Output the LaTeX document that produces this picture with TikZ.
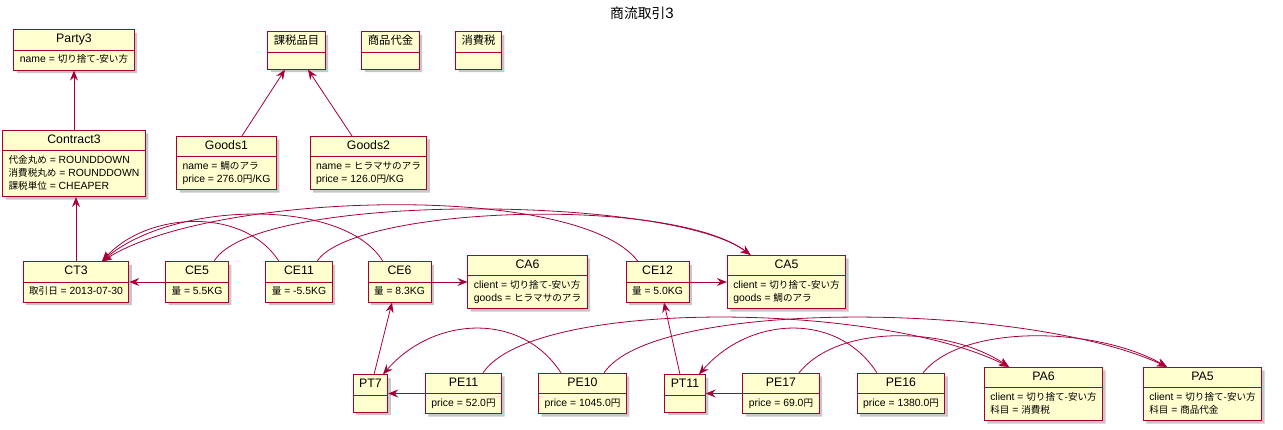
\documentclass[tikz,border=0pt]{standalone}
\usepackage{fontspec}
\setmainfont{Liberation Sans}
\newfontfamily\jp{Noto Sans CJK JP}[Scale=0.92]
\newcommand{\ja}[1]{{\jp#1}}
\newcommand{\ttl}[1]{{\fontsize{12.3}{13.5}\selectfont\strut#1}}
\usepackage{xcolor}
\usepackage{tikz}
\usetikzlibrary{shapes.multipart,arrows.meta,shadows}
\definecolor{umlred}{HTML}{A80036}
\definecolor{umlfill}{HTML}{FEFECE}

\begin{document}
\begin{tikzpicture}[
  x=1pt, y=1pt,
  font=\fontsize{10.4}{13}\selectfont,
  obj/.style={rectangle split, rectangle split parts=2,
              rectangle split part align={center,left}, align=left,
              draw=umlred, fill=umlfill, line width=0.9pt,
              inner xsep=6pt, inner ysep=3pt,
              drop shadow={shadow xshift=3pt, shadow yshift=-3pt,
                           fill=black, opacity=0.22}},
  arr/.style={-{Stealth[length=10pt, width=8pt, inset=3.5pt]},
              draw=umlred, line width=0.8pt},
]
\useasboundingbox (0,0) rectangle (1283,-430);

%% --- Title ---
\node (title) at (642,-13) {\fontsize{15}{17}\selectfont\ja{商流取引}3};

%% --- Objects ---
\node[obj] (party3) at (74,-50)
      {\ttl{Party3}\nodepart{two}\strut name = \ja{切り捨て-安い方}};
\node[obj] (contract3) at (74,-163.5)
      {\ttl{Contract3}\nodepart{two}\strut\ja{代金丸め} = ROUNDDOWN\\
       \strut\ja{消費税丸め} = ROUNDDOWN\\ \strut\ja{課税単位} = CHEAPER};

\node[obj] (kazei)    at (296.5,-50.5) {\ttl{\ja{課税品目}}\nodepart{two}\rule{0pt}{10pt}};
\node[obj] (shohin)   at (390.5,-50.5) {\ttl{\ja{商品代金}}\nodepart{two}\rule{0pt}{10pt}};
\node[obj] (shohizei) at (478.5,-50.5) {\ttl{\ja{消費税}}\nodepart{two}\rule{0pt}{10pt}};

\node[obj] (goods1) at (226.5,-163)
      {\ttl{Goods1}\nodepart{two}\strut name = \ja{鯛のアラ}\\
       \strut price = 276.0\ja{円}/KG};
\node[obj] (goods2) at (368.5,-163)
      {\ttl{Goods2}\nodepart{two}\strut name = \ja{ヒラマサのアラ}\\
       \strut price = 126.0\ja{円}/KG};

\node[obj] (ct3)  at (76,-282)    {\ttl{CT3}\nodepart{two}\strut\ja{取引日} = 2013-07-30};
\node[obj] (ce5)  at (197,-282)   {\ttl{CE5}\nodepart{two}\strut\ja{量} = 5.5KG};
\node[obj] (ce11) at (299,-282)   {\ttl{CE11}\nodepart{two}\strut\ja{量} = -5.5KG};
\node[obj] (ce6)  at (399.5,-282) {\ttl{CE6}\nodepart{two}\strut\ja{量} = 8.3KG};
\node[obj] (ca6)  at (527.5,-282)
      {\ttl{CA6}\nodepart{two}\strut client = \ja{切り捨て-安い方}\\
       \strut goods = \ja{ヒラマサのアラ}};
\node[obj] (ce12) at (657.5,-282) {\ttl{CE12}\nodepart{two}\strut\ja{量} = 5.0KG};
\node[obj] (ca5)  at (786.5,-282)
      {\ttl{CA5}\nodepart{two}\strut client = \ja{切り捨て-安い方}\\
       \strut goods = \ja{鯛のアラ}};

\node[obj] (pt7)  at (370.5,-393.5) {\ttl{PT7}\nodepart{two}\rule{0pt}{10pt}};
\node[obj] (pe11) at (463.5,-393.5) {\ttl{PE11}\nodepart{two}\strut price = 52.0\ja{円}};
\node[obj] (pe10) at (582.5,-393.5) {\ttl{PE10}\nodepart{two}\strut price = 1045.0\ja{円}};
\node[obj] (pt11) at (685,-393.5)   {\ttl{PT11}\nodepart{two}\rule{0pt}{10pt}};
\node[obj] (pe17) at (781,-393.5)   {\ttl{PE17}\nodepart{two}\strut price = 69.0\ja{円}};
\node[obj] (pe16) at (901,-393.5)   {\ttl{PE16}\nodepart{two}\strut price = 1380.0\ja{円}};
\node[obj] (pa6)  at (1043.5,-394)
      {\ttl{PA6}\nodepart{two}\strut client = \ja{切り捨て-安い方}\\
       \strut\ja{科目} = \ja{消費税}};
\node[obj] (pa5)  at (1202.5,-394)
      {\ttl{PA5}\nodepart{two}\strut client = \ja{切り捨て-安い方}\\
       \strut\ja{科目} = \ja{商品代金}};

%% --- Straight links ---
\draw[arr] (contract3) -- (party3);
\draw[arr] (ct3.north) -- (ct3.north |- contract3.south);
\draw[arr] ([xshift=15.5pt]goods1.north) -- ([xshift=-11.5pt]kazei.south);
\draw[arr] ([xshift=-16.5pt]goods2.north) -- ([xshift=11.5pt]kazei.south);
\draw[arr] (ce5)  -- (ct3);
\draw[arr] (ce6)  -- (ca6);
\draw[arr] (ce12) -- (ca5);
\draw[arr] (pe11) -- (pt7);
\draw[arr] (pe17) -- (pt11);
\draw[arr] ([xshift=3.5pt]pt7.north)  -- ([xshift=-7.5pt]ce6.south);
\draw[arr] ([xshift=-5pt]pt11.north)  -- ([xshift=6.5pt]ce12.south);

%% --- Curved links (entries) ---
\draw[arr] ([xshift=17pt]ce5.north)
      .. controls +(40,70) and +(-80,60) .. ([xshift=-36pt]ca5.north);
\draw[arr] ([xshift=18pt]ce11.north)
      .. controls +(35,55) and +(-80,60) .. ([xshift=-36pt]ca5.north);
\draw[arr] ([xshift=-20pt]ce11.north)
      .. controls +(-35,55) and +(45,50) .. ([xshift=26pt]ct3.north);
\draw[arr] ([xshift=-16.5pt]ce6.north)
      .. controls +(-40,65) and +(70,60) .. ([xshift=26pt]ct3.north);
\draw[arr] ([xshift=-19.5pt]ce12.north)
      .. controls +(-60,80) and +(110,70) .. ([xshift=26pt]ct3.north);

%% --- Curved links (payments) ---
\draw[arr] ([xshift=19.5pt]pe11.north)
      .. controls +(50,75) and +(-130,65) .. ([xshift=-34.5pt]pa6.north);
\draw[arr] ([xshift=-21.5pt]pe10.north)
      .. controls +(-40,62) and +(50,58) .. ([xshift=12.5pt]pt7.north);
\draw[arr] ([xshift=21.5pt]pe10.north)
      .. controls +(50,75) and +(-140,65) .. ([xshift=-35.5pt]pa5.north);
\draw[arr] ([xshift=18pt]pe17.north)
      .. controls +(40,50) and +(-60,40) .. ([xshift=-34.5pt]pa6.north);
\draw[arr] ([xshift=-24pt]pe16.north)
      .. controls +(-40,62) and +(50,58) .. ([xshift=14pt]pt11.north);
\draw[arr] ([xshift=22pt]pe16.north)
      .. controls +(40,50) and +(-70,40) .. ([xshift=-35.5pt]pa5.north);

\end{tikzpicture}
\end{document}
